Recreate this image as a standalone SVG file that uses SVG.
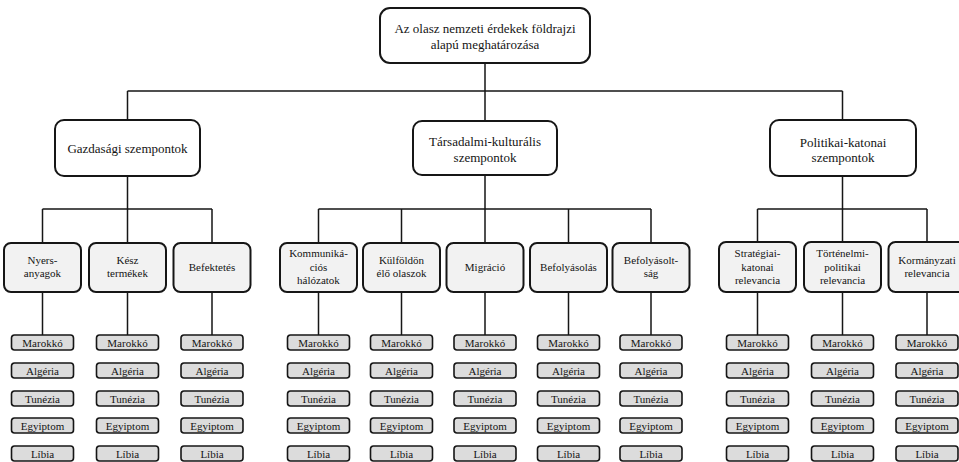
<svg xmlns="http://www.w3.org/2000/svg" width="959" height="462" viewBox="0 0 959 462">
<style>
text{font-family:"Liberation Serif","Times New Roman",serif;fill:#141414;text-anchor:middle}
.t13{font-size:13px}
.t11{font-size:11px}
.top{fill:#fff;stroke:#161616;stroke-width:2}
.l3{fill:#f2f2f2;stroke:#161616;stroke-width:2}
.ln{fill:none;stroke:#161616;stroke-width:1.5}
</style>
<defs>
<rect id="cb" width="62" height="15" rx="3" fill="#dcdcdc" stroke="#161616" stroke-width="1.6"/>
</defs>
<rect width="959" height="462" fill="#fff"/>
<g id="connectors" class="ln">
<path d="M485 63V91M127.5 91H842.5M127.5 91V120M485 91V121M842.5 91V120"/>
<path d="M127.5 176V209M42.5 209H212M42.5 209V243M127.5 209V243M212 209V243"/>
<path d="M485 175V209M318.5 209H651M318.5 209V243M401.5 209V243M485 209V243M568.5 209V243M651 209V243"/>
<path d="M842.5 176V209M757.5 209H927M757.5 209V242M842.5 209V242M927 209V242"/>
<path d="M42.5 292V335M127.5 292V335M212 292V335M318.5 292V335M401.5 292V335M485 292V335M568.5 292V335M651 292V335M757.5 292V335M842.5 292V335M927 292V335"/>
</g>
<g id="root"><rect class="top" x="380" y="8" width="210" height="55" rx="10"/><text class="t13" x="485" y="33">Az olasz nemzeti érdekek földrajzi</text><text class="t13" x="485" y="49">alapú meghatározása</text></g>
<g id="gazdasagi"><rect class="top" x="55" y="120" width="145" height="56" rx="9"/><text class="t13" x="127.5" y="153">Gazdasági szempontok</text></g>
<g id="tarsadalmi"><rect class="top" x="413" y="121" width="144" height="54" rx="9"/><text class="t13" x="485" y="146">Társadalmi-kulturális</text><text class="t13" x="485" y="162">szempontok</text></g>
<g id="politikai"><rect class="top" x="770" y="120" width="146" height="56" rx="9"/><text class="t13" x="843" y="147">Politikai-katonai</text><text class="t13" x="843" y="162">szempontok</text></g>
<g id="nyersanyagok"><rect class="l3" x="4" y="243" width="77" height="49" rx="7"/><text class="t11" x="42.5" y="264">Nyers-</text><text class="t11" x="42.5" y="277">anyagok</text></g>
<g id="kesztermekek"><rect class="l3" x="89" y="243" width="77" height="49" rx="7"/><text class="t11" x="127.5" y="264">Kész</text><text class="t11" x="127.5" y="277">termékek</text></g>
<g id="befektetes"><rect class="l3" x="173.5" y="243" width="77" height="49" rx="7"/><text class="t11" x="212" y="271">Befektetés</text></g>
<g id="kommunikacios"><rect class="l3" x="280" y="243" width="77" height="49" rx="7"/><text class="t11" x="318.5" y="257">Kommuniká-</text><text class="t11" x="318.5" y="271">ciós</text><text class="t11" x="318.5" y="284">hálózatok</text></g>
<g id="kulfoldon"><rect class="l3" x="363" y="243" width="77" height="49" rx="7"/><text class="t11" x="401.5" y="264">Külföldön</text><text class="t11" x="401.5" y="277">élő olaszok</text></g>
<g id="migracio"><rect class="l3" x="446.5" y="243" width="77" height="49" rx="7"/><text class="t11" x="485" y="271">Migráció</text></g>
<g id="befolyasolas"><rect class="l3" x="530" y="243" width="77" height="49" rx="7"/><text class="t11" x="568.5" y="271">Befolyásolás</text></g>
<g id="befolyasoltsag"><rect class="l3" x="612.5" y="243" width="77" height="49" rx="7"/><text class="t11" x="651" y="264">Befolyásolt-</text><text class="t11" x="651" y="277">ság</text></g>
<g id="strategiai"><rect class="l3" x="719" y="242" width="77" height="50" rx="7"/><text class="t11" x="757.5" y="257">Stratégiai-</text><text class="t11" x="757.5" y="271">katonai</text><text class="t11" x="757.5" y="284">relevancia</text></g>
<g id="tortenelmi"><rect class="l3" x="804" y="242" width="77" height="50" rx="7"/><text class="t11" x="842.5" y="257">Történelmi-</text><text class="t11" x="842.5" y="271">politikai</text><text class="t11" x="842.5" y="284">relevancia</text></g>
<g id="kormanyzati"><rect class="l3" x="888.5" y="242" width="77" height="50" rx="7"/><text class="t11" x="927" y="264">Kormányzati</text><text class="t11" x="927" y="277">relevancia</text></g>
<g id="countries-1"><g id="c1-marokko"><use href="#cb" x="11.5" y="335"/><text class="t11" x="42.5" y="346.5">Marokkó</text></g><g id="c1-algeria"><use href="#cb" x="11.5" y="363"/><text class="t11" x="42.5" y="374.5">Algéria</text></g><g id="c1-tunezia"><use href="#cb" x="11.5" y="391"/><text class="t11" x="42.5" y="402.5">Tunézia</text></g><g id="c1-egyiptom"><use href="#cb" x="11.5" y="418"/><text class="t11" x="42.5" y="429.5">Egyiptom</text></g><g id="c1-libia"><use href="#cb" x="11.5" y="446"/><text class="t11" x="42.5" y="457.5">Líbia</text></g></g>
<g id="countries-2"><g id="c2-marokko"><use href="#cb" x="96.5" y="335"/><text class="t11" x="127.5" y="346.5">Marokkó</text></g><g id="c2-algeria"><use href="#cb" x="96.5" y="363"/><text class="t11" x="127.5" y="374.5">Algéria</text></g><g id="c2-tunezia"><use href="#cb" x="96.5" y="391"/><text class="t11" x="127.5" y="402.5">Tunézia</text></g><g id="c2-egyiptom"><use href="#cb" x="96.5" y="418"/><text class="t11" x="127.5" y="429.5">Egyiptom</text></g><g id="c2-libia"><use href="#cb" x="96.5" y="446"/><text class="t11" x="127.5" y="457.5">Líbia</text></g></g>
<g id="countries-3"><g id="c3-marokko"><use href="#cb" x="181" y="335"/><text class="t11" x="212" y="346.5">Marokkó</text></g><g id="c3-algeria"><use href="#cb" x="181" y="363"/><text class="t11" x="212" y="374.5">Algéria</text></g><g id="c3-tunezia"><use href="#cb" x="181" y="391"/><text class="t11" x="212" y="402.5">Tunézia</text></g><g id="c3-egyiptom"><use href="#cb" x="181" y="418"/><text class="t11" x="212" y="429.5">Egyiptom</text></g><g id="c3-libia"><use href="#cb" x="181" y="446"/><text class="t11" x="212" y="457.5">Líbia</text></g></g>
<g id="countries-4"><g id="c4-marokko"><use href="#cb" x="287.5" y="335"/><text class="t11" x="318.5" y="346.5">Marokkó</text></g><g id="c4-algeria"><use href="#cb" x="287.5" y="363"/><text class="t11" x="318.5" y="374.5">Algéria</text></g><g id="c4-tunezia"><use href="#cb" x="287.5" y="391"/><text class="t11" x="318.5" y="402.5">Tunézia</text></g><g id="c4-egyiptom"><use href="#cb" x="287.5" y="418"/><text class="t11" x="318.5" y="429.5">Egyiptom</text></g><g id="c4-libia"><use href="#cb" x="287.5" y="446"/><text class="t11" x="318.5" y="457.5">Líbia</text></g></g>
<g id="countries-5"><g id="c5-marokko"><use href="#cb" x="370.5" y="335"/><text class="t11" x="401.5" y="346.5">Marokkó</text></g><g id="c5-algeria"><use href="#cb" x="370.5" y="363"/><text class="t11" x="401.5" y="374.5">Algéria</text></g><g id="c5-tunezia"><use href="#cb" x="370.5" y="391"/><text class="t11" x="401.5" y="402.5">Tunézia</text></g><g id="c5-egyiptom"><use href="#cb" x="370.5" y="418"/><text class="t11" x="401.5" y="429.5">Egyiptom</text></g><g id="c5-libia"><use href="#cb" x="370.5" y="446"/><text class="t11" x="401.5" y="457.5">Líbia</text></g></g>
<g id="countries-6"><g id="c6-marokko"><use href="#cb" x="454" y="335"/><text class="t11" x="485" y="346.5">Marokkó</text></g><g id="c6-algeria"><use href="#cb" x="454" y="363"/><text class="t11" x="485" y="374.5">Algéria</text></g><g id="c6-tunezia"><use href="#cb" x="454" y="391"/><text class="t11" x="485" y="402.5">Tunézia</text></g><g id="c6-egyiptom"><use href="#cb" x="454" y="418"/><text class="t11" x="485" y="429.5">Egyiptom</text></g><g id="c6-libia"><use href="#cb" x="454" y="446"/><text class="t11" x="485" y="457.5">Líbia</text></g></g>
<g id="countries-7"><g id="c7-marokko"><use href="#cb" x="537.5" y="335"/><text class="t11" x="568.5" y="346.5">Marokkó</text></g><g id="c7-algeria"><use href="#cb" x="537.5" y="363"/><text class="t11" x="568.5" y="374.5">Algéria</text></g><g id="c7-tunezia"><use href="#cb" x="537.5" y="391"/><text class="t11" x="568.5" y="402.5">Tunézia</text></g><g id="c7-egyiptom"><use href="#cb" x="537.5" y="418"/><text class="t11" x="568.5" y="429.5">Egyiptom</text></g><g id="c7-libia"><use href="#cb" x="537.5" y="446"/><text class="t11" x="568.5" y="457.5">Líbia</text></g></g>
<g id="countries-8"><g id="c8-marokko"><use href="#cb" x="620" y="335"/><text class="t11" x="651" y="346.5">Marokkó</text></g><g id="c8-algeria"><use href="#cb" x="620" y="363"/><text class="t11" x="651" y="374.5">Algéria</text></g><g id="c8-tunezia"><use href="#cb" x="620" y="391"/><text class="t11" x="651" y="402.5">Tunézia</text></g><g id="c8-egyiptom"><use href="#cb" x="620" y="418"/><text class="t11" x="651" y="429.5">Egyiptom</text></g><g id="c8-libia"><use href="#cb" x="620" y="446"/><text class="t11" x="651" y="457.5">Líbia</text></g></g>
<g id="countries-9"><g id="c9-marokko"><use href="#cb" x="726.5" y="335"/><text class="t11" x="757.5" y="346.5">Marokkó</text></g><g id="c9-algeria"><use href="#cb" x="726.5" y="363"/><text class="t11" x="757.5" y="374.5">Algéria</text></g><g id="c9-tunezia"><use href="#cb" x="726.5" y="391"/><text class="t11" x="757.5" y="402.5">Tunézia</text></g><g id="c9-egyiptom"><use href="#cb" x="726.5" y="418"/><text class="t11" x="757.5" y="429.5">Egyiptom</text></g><g id="c9-libia"><use href="#cb" x="726.5" y="446"/><text class="t11" x="757.5" y="457.5">Líbia</text></g></g>
<g id="countries-10"><g id="c10-marokko"><use href="#cb" x="811.5" y="335"/><text class="t11" x="842.5" y="346.5">Marokkó</text></g><g id="c10-algeria"><use href="#cb" x="811.5" y="363"/><text class="t11" x="842.5" y="374.5">Algéria</text></g><g id="c10-tunezia"><use href="#cb" x="811.5" y="391"/><text class="t11" x="842.5" y="402.5">Tunézia</text></g><g id="c10-egyiptom"><use href="#cb" x="811.5" y="418"/><text class="t11" x="842.5" y="429.5">Egyiptom</text></g><g id="c10-libia"><use href="#cb" x="811.5" y="446"/><text class="t11" x="842.5" y="457.5">Líbia</text></g></g>
<g id="countries-11"><g id="c11-marokko"><use href="#cb" x="896" y="335"/><text class="t11" x="927" y="346.5">Marokkó</text></g><g id="c11-algeria"><use href="#cb" x="896" y="363"/><text class="t11" x="927" y="374.5">Algéria</text></g><g id="c11-tunezia"><use href="#cb" x="896" y="391"/><text class="t11" x="927" y="402.5">Tunézia</text></g><g id="c11-egyiptom"><use href="#cb" x="896" y="418"/><text class="t11" x="927" y="429.5">Egyiptom</text></g><g id="c11-libia"><use href="#cb" x="896" y="446"/><text class="t11" x="927" y="457.5">Líbia</text></g></g>
</svg>
